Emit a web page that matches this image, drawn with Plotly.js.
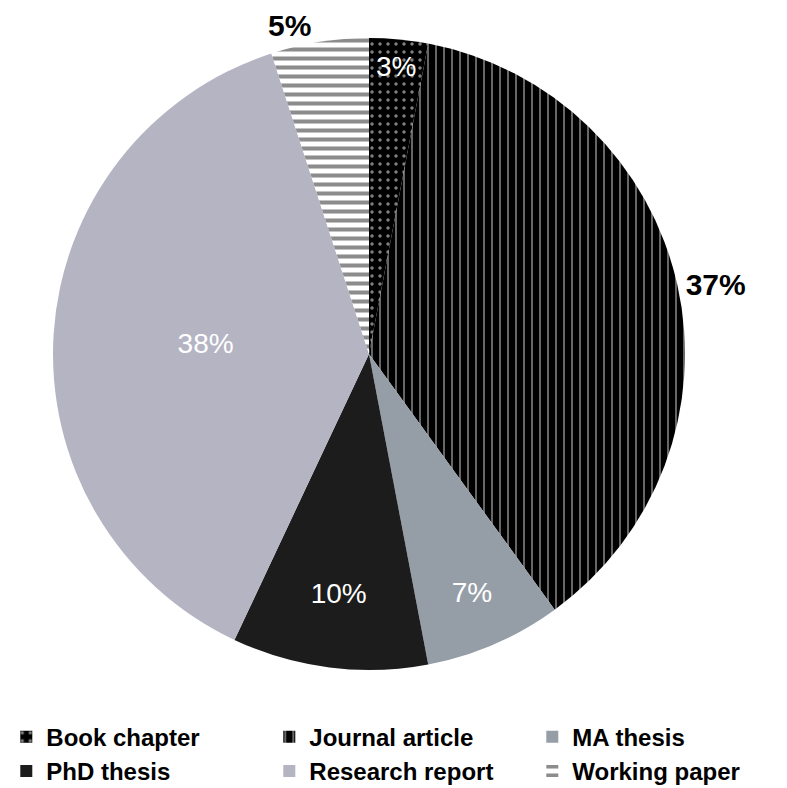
<!DOCTYPE html>
<html>
<head>
<meta charset="utf-8">
<script src="https://cdn.plot.ly/plotly-3.0.1.min.js"></script>
<style>html,body{margin:0;padding:0;background:#fff;}#chart{width:787px;height:788px;}</style>
</head>
<body>
<div id="chart"></div>
<script>
var categories = ['Book chapter', 'Journal article', 'MA thesis', 'PhD thesis', 'Research report', 'Working paper'];
var shares = [3, 37, 7, 10, 38, 5];
var sliceColors = ['#000000', '#000000', '#959ea7', '#1c1c1c', '#b4b4c3', '#ffffff'];
var patternShapes = ['.', '|', '', '', '', '-'];
var patternBg = ['#000000', '#000000', '#959ea7', '#1c1c1c', '#b4b4c3', '#ffffff'];
var patternFg = ['#ffffff', '#ffffff', '#959ea7', '#1c1c1c', '#b4b4c3', '#1a1a1a'];
var textPos = ['inside', 'outside', 'inside', 'inside', 'inside', 'outside'];

var trace = {
  type: 'pie',
  labels: categories,
  values: shares,
  sort: false,
  direction: 'clockwise',
  rotation: 0,
  textinfo: 'percent',
  texttemplate: '%{percent:.0%}',
  textposition: textPos,
  insidetextorientation: 'horizontal',
  insidetextfont: {family: 'Liberation Sans, Arial, sans-serif', size: 28, color: '#ffffff'},
  outsidetextfont: {family: 'Liberation Sans, Arial, sans-serif', size: 30, color: '#000000', weight: 'bold'},
  hoverinfo: 'label+percent',
  marker: {
    colors: sliceColors,
    line: {width: 0, color: '#000000'},
    pattern: {
      shape: patternShapes,
      bgcolor: patternBg,
      fgcolor: patternFg,
      fillmode: 'overlay',
      size: [8, 8, 8, 8, 8, 9],
      solidity: [0.15, 0.2, 0.3, 0.3, 0.3, 0.45]
    }
  },
  domain: {x: [53/787, 685/787], y: [118/788, 750/788]}
};

var layout = {
  width: 787,
  height: 788,
  margin: {l: 0, r: 0, t: 0, b: 0, autoexpand: false},
  paper_bgcolor: '#ffffff',
  showlegend: true,
  legend: {
    orientation: 'h',
    x: 0.008,
    xanchor: 'left',
    y: 0.093,
    yanchor: 'top',
    entrywidth: 218,
    itemwidth: 30,
    tracegroupgap: 0,
    font: {family: 'Liberation Sans, Arial, sans-serif', size: 24, color: '#000000', weight: 'bold'}
  }
};

Plotly.newPlot('chart', [trace], layout, {displayModeBar: false, staticPlot: true});
</script>
</body>
</html>
